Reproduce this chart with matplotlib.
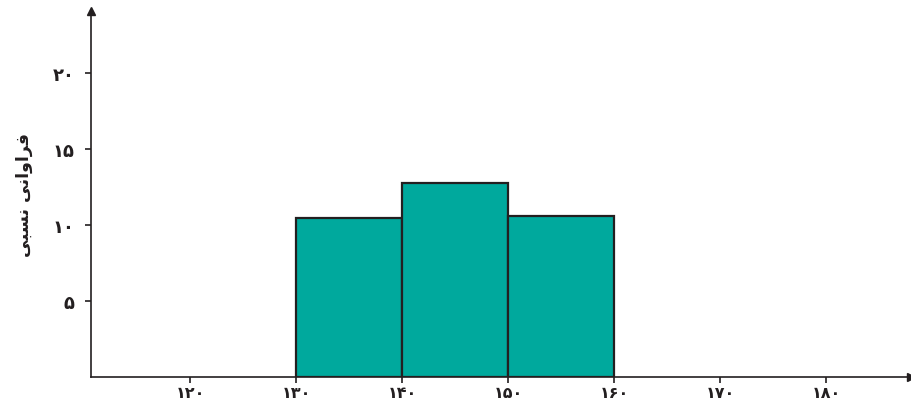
import matplotlib
matplotlib.use("Agg")
import matplotlib.pyplot as plt

# fronteiras das classes e alturas (frequência relativa)
edges = [130, 140, 150, 160]
heights = [10.5, 12.8, 10.6]

# rótulos dos eixos (algarismos persas)
xticks = [120, 130, 140, 150, 160, 170, 180]
xlabels = ["۱۲۰", "۱۳۰", "۱۴۰", "۱۵۰", "۱۶۰", "۱۷۰", "۱۸۰"]
yticks = [5, 10, 15, 20]
ylabels = ["۵", "۱۰", "۱۵", "۲۰"]

# "فراوانی نسبی" já em formas de apresentação, ordem visual
ylabel_txt = "\uFEF0\uFE92\uFEB4\uFEE7 \uFEF0\uFEE7\uFE8D\uFEED\uFE8D\uFEAE\uFED3"

ink = "#231F20"
fill = "#00A99D"

fig = plt.figure(figsize=(9.11, 4.06), dpi=100)
ax = fig.add_axes([91/911, 28/406, 820/911, 366/406])

widths = [edges[i+1] - edges[i] for i in range(len(heights))]
ax.bar(edges[:-1], heights, width=widths, align="edge",
       color=fill, edgecolor=ink, linewidth=1.6, zorder=2)

ax.set_xlim(110.66, 188.0)
ax.set_ylim(0, 24.1)

for s in ["top", "right"]:
    ax.spines[s].set_visible(False)
for s in ["left", "bottom"]:
    ax.spines[s].set_color(ink)
    ax.spines[s].set_linewidth(1.2)
    ax.spines[s].set_zorder(3)

# setas nas pontas dos eixos
ax.plot(1, 0, ">", color=ink, markersize=6, transform=ax.transAxes, clip_on=False)
ax.plot(0, 1, "^", color=ink, markersize=6, transform=ax.transAxes, clip_on=False)

ax.set_xticks(xticks)
ax.set_xticklabels(xlabels, fontsize=11.5, fontweight="bold", color=ink)
ax.set_yticks(yticks)
ax.set_yticklabels(ylabels, fontsize=13, fontweight="bold", color=ink)
ax.tick_params(axis="both", length=4, width=1.2, color=ink)
ax.tick_params(axis="x", pad=2)
ax.tick_params(axis="y", pad=8)

ax.set_ylabel(ylabel_txt, fontsize=12.5, fontweight="bold", color=ink, labelpad=14)

fig.savefig("out.png", dpi=100)
